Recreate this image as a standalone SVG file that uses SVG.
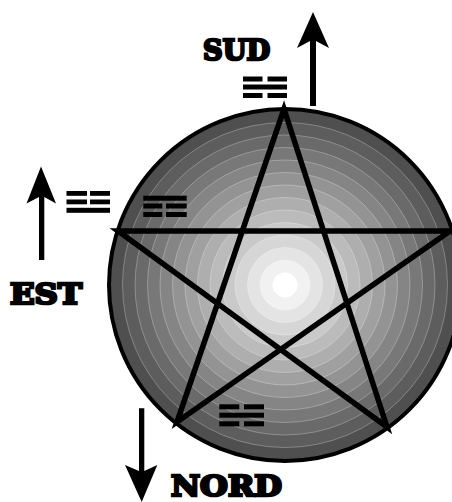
<svg xmlns="http://www.w3.org/2000/svg" width="452" height="502" viewBox="0 0 452 502">
<style>
.ring{stroke:#ffffff;stroke-opacity:0.35;stroke-width:0.8}
.bar{fill:#000}
.lbl{font-family:"DejaVu Serif","Liberation Serif",serif;font-weight:bold;font-size:28px;fill:#000;stroke:#000;stroke-width:2.6;stroke-linejoin:miter}
.star{fill:none;stroke:#000;stroke-width:5.5;stroke-linejoin:miter}
</style>
<rect width="452" height="502" fill="#fff"/>
<g id="disc">
<circle class="ring" cx="285" cy="285" r="175" fill="#4f4f4f"/>
<circle class="ring" cx="285" cy="285" r="162.5" fill="#5d5d5d"/>
<circle class="ring" cx="285" cy="285" r="150" fill="#6a6a6a"/>
<circle class="ring" cx="285" cy="285" r="137.5" fill="#787878"/>
<circle class="ring" cx="285" cy="285" r="125" fill="#858585"/>
<circle class="ring" cx="285" cy="285" r="112.5" fill="#939393"/>
<circle class="ring" cx="285" cy="285" r="100" fill="#a0a0a0"/>
<circle class="ring" cx="285" cy="285" r="87.5" fill="#aeaeae"/>
<circle class="ring" cx="285" cy="285" r="75" fill="#bbbbbb"/>
<circle class="ring" cx="285" cy="285" r="62.5" fill="#c9c9c9"/>
<circle class="ring" cx="285" cy="285" r="50" fill="#d6d6d6"/>
<circle class="ring" cx="285" cy="285" r="37.5" fill="#e4e4e4"/>
<circle class="ring" cx="285" cy="285" r="25" fill="#f1f1f1"/>
<circle cx="285" cy="285" r="12.5" fill="#ffffff"/>
<circle cx="285" cy="285" r="176" fill="none" stroke="#000" stroke-width="4"/>
</g>
<g id="pentagram">
<polygon class="star" points="284,109 177,422 450,231 118,231 387,427"/>
</g>
<g id="trigram-sud">
<rect class="bar" x="243" y="76.5" width="19.5" height="5"/><rect class="bar" x="267.5" y="76.5" width="19.5" height="5"/>
<rect class="bar" x="243" y="84.5" width="44" height="5"/>
<rect class="bar" x="243" y="93" width="19.5" height="5"/><rect class="bar" x="267.5" y="93" width="19.5" height="5"/>
</g>
<g id="trigram-est-outer">
<rect class="bar" x="66.5" y="191" width="20.5" height="4.8"/><rect class="bar" x="90" y="191" width="20" height="4.8"/>
<rect class="bar" x="66.5" y="199.5" width="20.5" height="4.8"/><rect class="bar" x="90" y="199.5" width="20" height="4.8"/>
<rect class="bar" x="66.5" y="207.8" width="43.5" height="5"/>
</g>
<g id="trigram-est-inner">
<rect class="bar" x="143.3" y="195.7" width="43.4" height="5"/>
<rect class="bar" x="143.3" y="203.5" width="19" height="5"/><rect class="bar" x="166" y="203.5" width="20.7" height="5"/>
<rect class="bar" x="143.3" y="212" width="19" height="5"/><rect class="bar" x="166" y="212" width="20.7" height="5"/>
</g>
<g id="trigram-nord">
<rect class="bar" x="219.3" y="404.3" width="20" height="5"/><rect class="bar" x="244" y="404.3" width="20" height="5"/>
<rect class="bar" x="219.3" y="412.7" width="44.7" height="5"/>
<rect class="bar" x="219.3" y="421.3" width="20" height="5"/><rect class="bar" x="244" y="421.3" width="20" height="5"/>
</g>
<g id="connectors">
<polygon id="arrow-sud" fill="#000" points="313,12 329,48 316,41 316,106 310,106 310,41 297,48"/>
<polygon id="arrow-est" fill="#000" points="41,166.5 56,203.5 44.3,197 44.3,260 39,260 39,197 26.5,203.5"/>
<polygon id="arrow-nord" fill="#000" points="141.7,502 157.3,465 144.3,471 144.3,408.3 139,408.3 139,471 125,465"/>
</g>
<g id="label-sud"><text class="lbl" x="203" y="60" textLength="67" lengthAdjust="spacingAndGlyphs">SUD</text></g>
<g id="label-est"><text class="lbl" x="10" y="304" textLength="72" lengthAdjust="spacingAndGlyphs">EST</text></g>
<g id="label-nord"><text class="lbl" x="171" y="496" textLength="111" lengthAdjust="spacingAndGlyphs">NORD</text></g>
</svg>
